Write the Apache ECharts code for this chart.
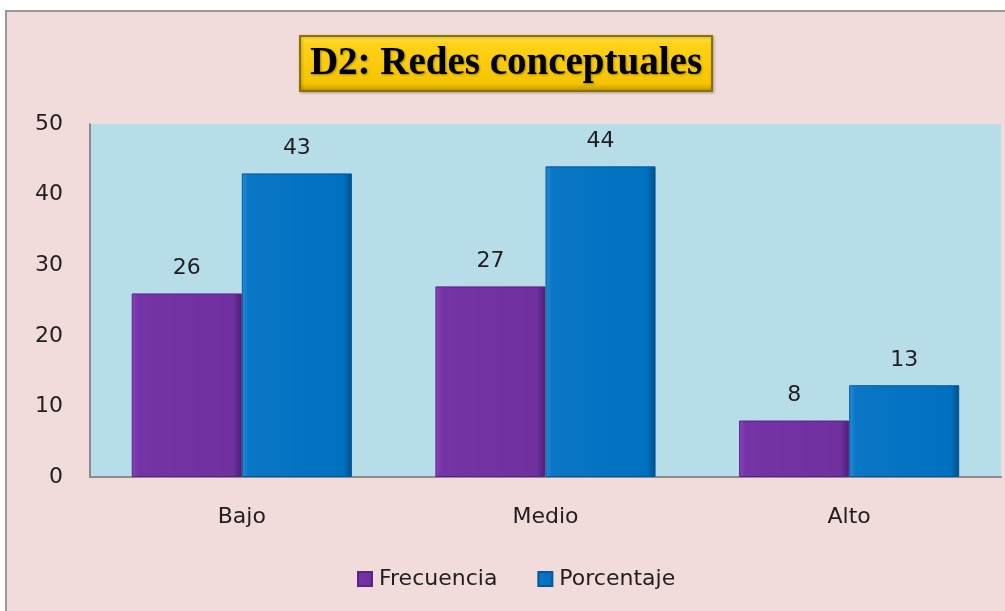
<!DOCTYPE html>
<html>
<head>
<meta charset="utf-8">
<script src="https://cdn.jsdelivr.net/npm/echarts@6/dist/echarts.min.js"></script>
<style>
  html, body { margin: 0; padding: 0; background: #ffffff; }
  #chart {
    position: absolute;
    left: 5px;
    top: 10px;
    width: 1000px;
    height: 601px;
    box-sizing: border-box;
    border-left: 2px solid #9a9a9a;
    border-top: 2px solid #9a9a9a;
    background: #f2dcdb;
  }
</style>
</head>
<body>
<div id="chart"></div>
<script>
// datos del gráfico
const categorias = ['Bajo', 'Medio', 'Alto']
const frecuencia = [26, 27, 8]
const porcentaje = [43, 44, 13]
const ticksY = [0, 10, 20, 30, 40, 50]

const chart = echarts.init(document.getElementById('chart'))

const labelFont = {
  fontFamily: 'DejaVu Sans',
  fontSize: 22,
  color: '#1f1f1f'
}

const option = {
  backgroundColor: '#f2dcdb',
  title: {
    text: 'D2: Redes conceptuales',
    left: 'center',
    top: 24,
    padding: [8, 10, 8, 10],
    backgroundColor: {
      type: 'linear', x: 0, y: 0, x2: 0, y2: 1,
      colorStops: [
        {offset: 0, color: '#ffe95a'},
        {offset: 0.15, color: '#ffd21a'},
        {offset: 0.85, color: '#f5c400'},
        {offset: 1, color: '#b89200'}
      ]
    },
    borderColor: '#8a7200',
    borderWidth: 2,
    shadowColor: 'rgba(0,0,0,0.25)',
    shadowBlur: 3,
    shadowOffsetX: 1,
    shadowOffsetY: 1,
    textStyle: {
      fontFamily: 'Liberation Serif',
      fontWeight: 'bold',
      fontSize: 39,
      color: '#000000',
      textShadowColor: 'rgba(0,0,0,0.35)',
      textShadowBlur: 2,
      textShadowOffsetX: 1,
      textShadowOffsetY: 1
    }
  },
  legend: {
    left: 345,
    top: 551,
    itemWidth: 14,
    itemHeight: 14,
    itemGap: 40,
    icon: 'rect',
    textStyle: {...labelFont, padding: [0, 0, 0, 2]},
    data: ['Frecuencia', 'Porcentaje']
  },
  grid: {
    left: 83,
    top: 112,
    right: 4,
    bottom: 134,
    show: true,
    backgroundColor: '#b7dde8',
    borderWidth: 0
  },
  xAxis: {
    type: 'category',
    data: categorias,
    axisLine: {lineStyle: {color: '#8c8c8c', width: 2}},
    axisTick: {show: false},
    axisLabel: {...labelFont, margin: 29}
  },
  yAxis: {
    type: 'value',
    min: ticksY[0],
    max: ticksY[ticksY.length - 1],
    interval: 10,
    axisLine: {show: true, lineStyle: {color: '#8c8c8c', width: 2}},
    axisTick: {show: false},
    splitLine: {show: false},
    axisLabel: {...labelFont, margin: 27}
  },
  series: [
    {
      name: 'Frecuencia',
      type: 'bar',
      data: frecuencia,
      barGap: '0%',
      barCategoryGap: '27.5%',
      itemStyle: {
        color: {
          type: 'linear', x: 0, y: 0, x2: 1, y2: 0,
          colorStops: [
            {offset: 0, color: '#8a45b8'},
            {offset: 0.06, color: '#7434a6'},
            {offset: 0.92, color: '#7030a0'},
            {offset: 1, color: '#4e1f72'}
          ]
        },
        borderColor: '#5a2482',
        borderWidth: 1
      },
      label: {show: true, position: 'top', distance: 14, ...labelFont}
    },
    {
      name: 'Porcentaje',
      type: 'bar',
      data: porcentaje,
      itemStyle: {
        color: {
          type: 'linear', x: 0, y: 0, x2: 1, y2: 0,
          colorStops: [
            {offset: 0, color: '#2a8ad6'},
            {offset: 0.06, color: '#0a76c6'},
            {offset: 0.92, color: '#0070c0'},
            {offset: 1, color: '#004f8a'}
          ]
        },
        borderColor: '#005a9c',
        borderWidth: 1
      },
      label: {show: true, position: 'top', distance: 14, ...labelFont}
    }
  ]
}

chart.setOption(option)
</script>
</body>
</html>
